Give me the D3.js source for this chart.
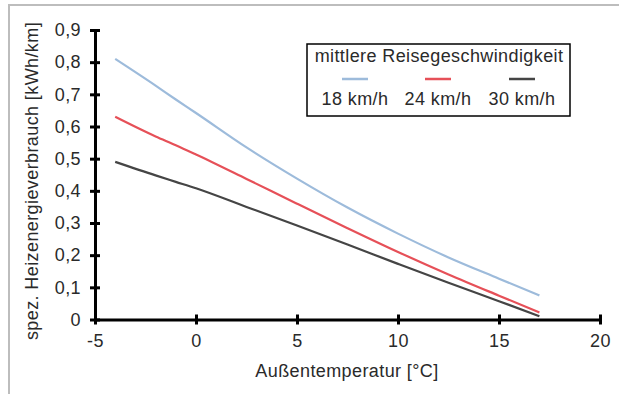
<!DOCTYPE html>
<html lang="de">
<head>
  <meta charset="utf-8">
  <title>Heizenergieverbrauch</title>
  <script src="https://d3js.org/d3.v7.min.js"></script>
  <style>
    body { margin: 0; background: #fff; }
    text { font-family: "Liberation Sans", Arial, sans-serif; fill: #2a2a2a; }
    .tick-label, .title { font-size: 18px; letter-spacing: 0.4px; }
  </style>
</head>
<body>
  <div id="chart"></div>
  <script>
    var w = 619, h = 394;

    // Daten
    var temps = [-4, -2, -1, 0, 2.5, 5, 7.5, 10, 12.5, 15, 17];
    var v18 = [0.81, 0.727, 0.684, 0.642, 0.535, 0.438, 0.348, 0.267, 0.193, 0.127, 0.075];
    var v24 = [0.63, 0.569, 0.542, 0.513, 0.437, 0.36, 0.284, 0.21, 0.14, 0.074, 0.022];
    var v30 = [0.49, 0.448, 0.428, 0.408, 0.35, 0.292, 0.233, 0.173, 0.114, 0.057, 0.01];
    var seriesNames = ['18 km/h', '24 km/h', '30 km/h'];
    var seriesColors = ['#9dbbdb', '#e65058', '#454545'];
    var xTicks = [-5, 0, 5, 10, 15, 20];
    var yTicks = [0, 0.1, 0.2, 0.3, 0.4, 0.5, 0.6, 0.7, 0.8, 0.9];

    var x = d3.scaleLinear().domain([-5, 20]).range([95, 600]);
    var y = d3.scaleLinear().domain([0, 0.9]).range([319.5, 30]);

    var svg = d3.select('#chart').append('svg')
      .attr('width', w)
      .attr('height', h);

    // Rahmen (nur links und oben sichtbar)
    svg.append('path')
      .attr('d', 'M9,394 V5 H619')
      .attr('fill', 'none')
      .attr('stroke', '#bdbdbd')
      .attr('stroke-width', 2);

    // Linien
    var series = [v18, v24, v30];
    var line = d3.line()
      .x(function (d, i) { return x(temps[i]); })
      .y(function (d) { return y(d); })
      .curve(d3.curveMonotoneX);

    svg.selectAll('path.series')
      .data(series)
      .enter().append('path')
      .attr('class', 'series')
      .attr('d', line)
      .attr('fill', 'none')
      .attr('stroke', function (d, i) { return seriesColors[i]; })
      .attr('stroke-width', 2.2);

    // Achsen
    var fmtY = function (d) { return d === 0 ? '0' : d3.format('.1f')(d).replace('.', ','); };
    var fmtX = function (d) { return String(d); }; // Bindestrich statt Minuszeichen

    var xAxis = svg.append('g')
      .attr('transform', 'translate(0,' + y(0) + ')')
      .call(d3.axisBottom(x).tickValues(xTicks).tickSize(0).tickPadding(15).tickFormat(fmtX));
    var yAxis = svg.append('g')
      .attr('transform', 'translate(' + x(-5) + ',0)')
      .call(d3.axisLeft(y).tickValues(yTicks).tickSize(0).tickPadding(14).tickFormat(fmtY));

    [xAxis, yAxis].forEach(function (g) {
      g.attr('font-size', null).attr('font-family', null);
      g.select('.domain').attr('stroke', '#000').attr('stroke-width', 3);
      g.selectAll('.tick text').attr('class', 'tick-label').attr('fill', null);
    });

    // Kreuz-Ticks
    xAxis.selectAll('.tick').append('line')
      .attr('y1', -5).attr('y2', 5)
      .attr('stroke', '#000').attr('stroke-width', 3);
    yAxis.selectAll('.tick').append('line')
      .attr('x1', -5).attr('x2', 5)
      .attr('stroke', '#000').attr('stroke-width', 3);

    // Achsentitel
    svg.append('text')
      .attr('class', 'title')
      .attr('x', 347)
      .attr('y', 377)
      .attr('text-anchor', 'middle')
      .text('Außentemperatur [°C]');

    svg.append('text')
      .attr('class', 'title')
      .attr('transform', 'translate(38,181) rotate(-90)')
      .attr('text-anchor', 'middle')
      .text('spez. Heizenergieverbrauch [kWh/km]');

    // Legende
    var legend = svg.append('g');
    legend.append('rect')
      .attr('x', 307).attr('y', 44)
      .attr('width', 263).attr('height', 72)
      .attr('fill', '#fff')
      .attr('stroke', '#000')
      .attr('stroke-width', 1.5);
    legend.append('text')
      .attr('class', 'title')
      .attr('x', 439).attr('y', 62)
      .attr('text-anchor', 'middle')
      .text('mittlere Reisegeschwindigkeit');

    var legendX = [355, 438, 522];
    var item = legend.selectAll('g.item')
      .data(seriesNames)
      .enter().append('g')
      .attr('class', 'item')
      .attr('transform', function (d, i) { return 'translate(' + legendX[i] + ',0)'; });
    item.append('line')
      .attr('x1', -13).attr('x2', 13)
      .attr('y1', 79).attr('y2', 79)
      .attr('stroke', function (d, i) { return seriesColors[i]; })
      .attr('stroke-width', 2.5);
    item.append('text')
      .attr('class', 'title')
      .attr('y', 105)
      .attr('text-anchor', 'middle')
      .text(function (d) { return d; });
  </script>
</body>
</html>
